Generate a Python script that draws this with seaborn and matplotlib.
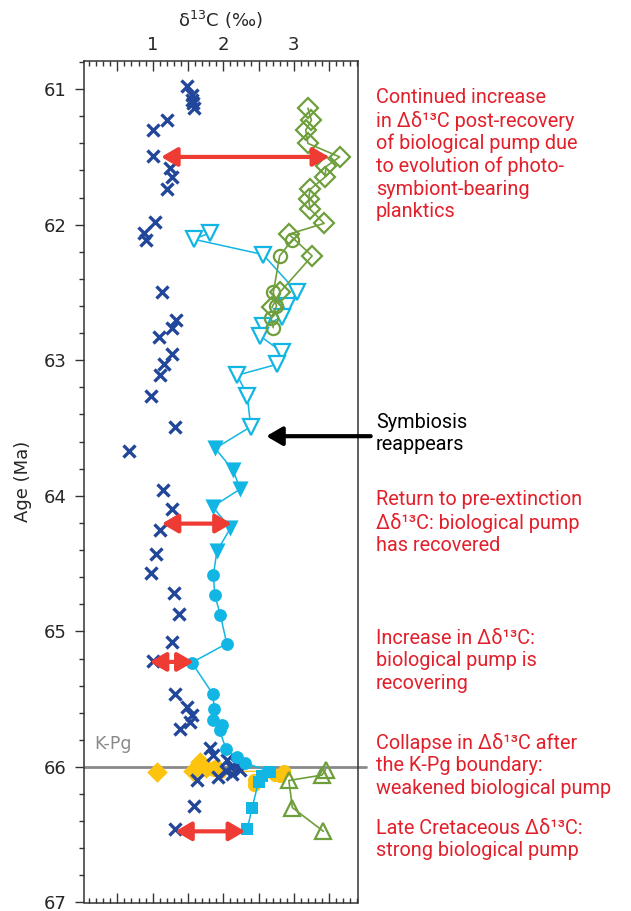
import numpy as np
import matplotlib
matplotlib.use("Agg")
import matplotlib.pyplot as plt
import seaborn as sns
from matplotlib.ticker import MultipleLocator, FuncFormatter

# planktic/benthic d13C values (x) against age in Ma (y)
x_blue = [1.49, 1.555, 1.555, 1.57, 1.58, 1.21, 1.0, 1.01, 1.24, 1.27, 1.21, 1.03, 0.88, 0.9,
          1.13, 1.33, 1.28, 1.09, 1.28, 1.165, 1.10, 0.976, 1.31, 0.667,
          1.15, 1.28, 1.10, 1.05, 0.976, 1.30, 1.37, 1.28, 1.0,
          1.32, 1.49, 1.555, 1.53, 1.39,
          1.815, 1.85, 2.06, 2.11, 2.04, 2.24, 1.92, 1.625, 2.2, 2.13, 1.58, 1.31]
y_blue = [60.98, 61.04, 61.08, 61.1, 61.14, 61.23, 61.30, 61.49, 61.58, 61.65, 61.74, 61.98, 62.06, 62.11,
          62.50, 62.70, 62.76, 62.83, 62.95, 63.03, 63.11, 63.26, 63.49, 63.67,
          63.955, 64.095, 64.255, 64.43, 64.57, 64.72, 64.87, 65.08, 65.22,
          65.46, 65.56, 65.62, 65.67, 65.72,
          65.86, 65.91, 65.95, 66.0, 66.03, 66.02, 66.075, 66.10, 65.98, 66.05, 66.29, 66.46]

# cyan record: open triangles, filled triangles, filled circles, filled squares
x_open_tri = [1.815, 1.58, 2.565, 3.05, 2.905, 2.84, 2.565, 2.52, 2.835, 2.76, 2.20, 2.34, 2.39]
y_open_tri = [62.06, 62.107, 62.22, 62.50, 62.60, 62.68, 62.745, 62.82, 62.94, 63.03, 63.11, 63.26, 63.49]
x_fill_tri = [1.886, 2.14, 2.24, 1.85, 2.10, 1.91]
y_fill_tri = [63.65, 63.81, 63.95, 64.08, 64.24, 64.41]
x_cyan_circ = [1.86, 1.88, 1.96, 2.05, 1.555, 1.85, 1.875, 1.86, 1.98, 1.95, 2.04, 2.20, 2.31]
y_cyan_circ = [64.585, 64.73, 64.88, 65.09, 65.23, 65.46, 65.575, 65.65, 65.69, 65.73, 65.87, 65.93, 65.97]
x_cyan_sq = [2.67, 2.55, 2.50, 2.41, 2.34]
y_cyan_sq = [66.035, 66.07, 66.11, 66.30, 66.46]

# green record
x_green_dia = [3.20, 3.25, 3.17, 3.20, 3.65, 3.46, 3.44, 3.23, 3.21, 3.23, 3.43, 2.93, 3.26, 2.80, 2.69]
y_green_dia = [61.14, 61.23, 61.30, 61.40, 61.50, 61.57, 61.65, 61.74, 61.81, 61.885, 61.99, 62.07, 62.23, 62.50, 62.61]
x_green_circ = [2.98, 2.80, 2.71, 2.755, 2.68, 2.71]
y_green_circ = [62.11, 62.23, 62.50, 62.60, 62.69, 62.76]
x_green_tri = [3.45, 3.40, 2.93, 2.98, 3.42]
y_green_tri = [66.02, 66.06, 66.10, 66.30, 66.475]

# yellow record around the boundary
x_yel_dia = [1.065, 1.57, 1.67, 1.75]
y_yel_dia = [66.035, 66.03, 65.96, 66.01]
x_yel_circ = [1.90, 1.87, 1.96, 2.86, 2.74, 2.81, 2.43, 2.43]
y_yel_circ = [65.99, 66.02, 66.035, 66.03, 66.06, 66.07, 66.095, 66.13]

# red double arrows: (x_start, x_end, age)
arrow_x0 = [1.12, 1.13, 0.96, 1.32]
arrow_x1 = [3.50, 2.12, 1.58, 2.31]
arrow_age = [61.50, 64.205, 65.225, 66.475]

kpg_age = 66.0

navy = "#22479a"
cyan = "#12b6e4"
green = "#6f9e3d"
yellow = "#fcc30f"
red = "#ee3b33"
textred = "#e2202b"

sns.set_style("ticks")
plt.rcParams["font.family"] = ["DejaVu Sans"]

W, H = 631, 911
fig = plt.figure(figsize=(W / 100, H / 100), dpi=100)
ax = fig.add_axes([83.5 / W, 1 - 902.5 / H, (358 - 83.5) / W, (902.5 - 60.7) / H])

# boundary line (runs a little past the right spine)
ax.plot([0.02, 4.02], [kpg_age, kpg_age], color="#8a8a8a", lw=2, zorder=1, clip_on=False)
ax.text(0.17, 65.87, "K-Pg", color="#8a8a8a", fontsize=12.5)

# yellow
sns.lineplot(x=x_yel_circ, y=y_yel_circ, sort=False, estimator=None, color=yellow, lw=1,
             ax=ax, zorder=2)
sns.scatterplot(x=x_yel_circ, y=y_yel_circ, marker="o", color=yellow, s=90, linewidth=0, ax=ax, zorder=2)
sns.scatterplot(x=x_yel_dia, y=y_yel_dia, marker="D", color=yellow, s=110, linewidth=0, ax=ax, zorder=2)

# navy crosses
sns.scatterplot(x=x_blue, y=y_blue, marker="x", color=navy, s=75, linewidth=2.4, ax=ax, zorder=3)

# cyan: one connecting line through all groups, then markers
cx = x_open_tri + x_fill_tri + x_cyan_circ + x_cyan_sq
cy = y_open_tri + y_fill_tri + y_cyan_circ + y_cyan_sq
sns.lineplot(x=cx, y=cy, sort=False, estimator=None, color=cyan, lw=1.1, ax=ax, zorder=4)
sns.lineplot(x=x_open_tri, y=y_open_tri, sort=False, estimator=None, color=cyan, lw=0,
             marker="v", markersize=11.5, markerfacecolor="white", markeredgecolor=cyan,
             markeredgewidth=1.6, ax=ax, zorder=5)
sns.scatterplot(x=x_fill_tri, y=y_fill_tri, marker="v", color=cyan, s=135, linewidth=0, ax=ax, zorder=5)
sns.scatterplot(x=x_cyan_circ, y=y_cyan_circ, marker="o", color=cyan, s=85, linewidth=0, ax=ax, zorder=5)
sns.scatterplot(x=x_cyan_sq, y=y_cyan_sq, marker="s", color=cyan, s=75, linewidth=0, ax=ax, zorder=5)

# green open markers joined by lines
for gx, gy, mk, ms in [(x_green_dia, y_green_dia, "D", 10),
                       (x_green_circ, y_green_circ, "o", 9.5),
                       (x_green_tri, y_green_tri, "^", 11.5)]:
    sns.lineplot(x=gx, y=gy, sort=False, estimator=None, color=green, lw=1.2,
                 marker=mk, markersize=ms, markerfacecolor="none", markeredgecolor=green,
                 markeredgewidth=1.6, ax=ax, zorder=6)

# red arrows
for x0, x1, a in zip(arrow_x0, arrow_x1, arrow_age):
    ax.annotate("", xy=(x1, a), xytext=(x0, a),
                arrowprops=dict(arrowstyle="<|-|>,head_length=0.6,head_width=0.35",
                                color=red, lw=3, shrinkA=0, shrinkB=0, mutation_scale=16),
                zorder=8)

# black arrow pointing at the reappearance of symbiosis
ax.annotate("", xy=(2.61, 63.56), xytext=(4.09, 63.56), annotation_clip=False,
            arrowprops=dict(arrowstyle="-|>,head_length=0.6,head_width=0.35",
                            color="black", lw=3, shrinkA=0, shrinkB=0, mutation_scale=16),
            zorder=8)

ax.set_xlim(0.02, 3.91)
ax.set_ylim(67, 60.79)
ax.xaxis.set_ticks_position("both")
ax.xaxis.set_label_position("top")
ax.xaxis.set_major_locator(MultipleLocator(0.5))
ax.xaxis.set_minor_locator(MultipleLocator(0.1))
ax.xaxis.set_major_formatter(FuncFormatter(lambda v, p: f"{v:.0f}" if abs(v - round(v)) < 1e-6 else ""))
ax.tick_params(axis="x", which="both", direction="in", top=True, bottom=True,
               labeltop=True, labelbottom=False, labelsize=13, pad=5, color="#333333")
ax.tick_params(axis="x", which="major", length=7, width=1)
ax.tick_params(axis="x", which="minor", length=3.8, width=1)
ax.yaxis.set_major_locator(MultipleLocator(1))
ax.yaxis.set_minor_locator(MultipleLocator(0.2))
ax.tick_params(axis="y", which="both", direction="out", right=False, labelsize=13, pad=6, color="#333333")
ax.tick_params(axis="y", which="major", length=6.3, width=1)
ax.tick_params(axis="y", which="minor", length=3.3, width=1)
ax.set_xlabel("δ$^{13}$C (‰)", fontsize=13, labelpad=6)
ax.set_ylabel("Age (Ma)", fontsize=13, labelpad=8)
for s in ax.spines.values():
    s.set_visible(True)
    s.set_color("#333333")
    s.set_linewidth(1.1)

# annotations on the right
fam = ["Roboto", "DejaVu Sans"]
notes = [
    (88, textred, "Continued increase\nin Δδ¹³C post-recovery\nof biological pump due\nto evolution of photo-\nsymbiont-bearing\nplanktics"),
    (413, "black", "Symbiosis\nreappears"),
    (490, textred, "Return to pre-extinction\nΔδ¹³C: biological pump\nhas recovered"),
    (629, textred, "Increase in Δδ¹³C:\nbiological pump is\nrecovering"),
    (733, textred, "Collapse in Δδ¹³C after\nthe K-Pg boundary:\nweakened biological pump"),
    (819, textred, "Late Cretaceous Δδ¹³C:\nstrong biological pump"),
]
for ytop, col, txt in notes:
    fig.text(376 / W, 1 - ytop / H, txt, color=col, fontsize=14.3, family=fam,
             va="top", ha="left", linespacing=1.22)

fig.savefig("out.png", dpi=100)
